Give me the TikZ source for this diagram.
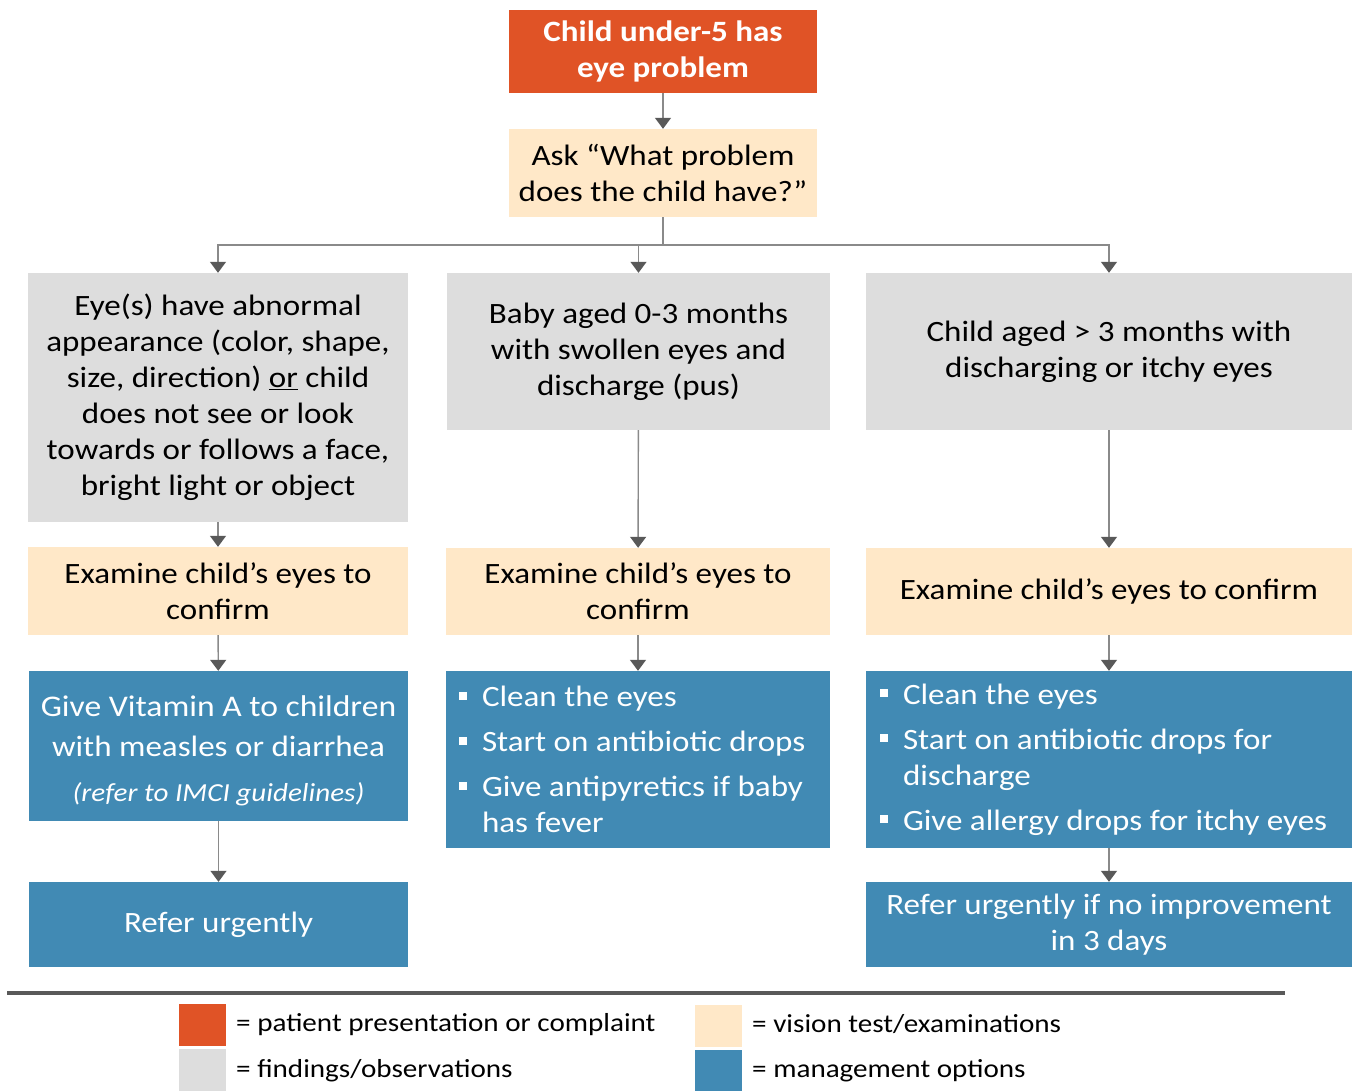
\documentclass[tikz,border=0pt]{standalone}
\usepackage{fontspec}
\setmainfont{Carlito}[FakeStretch=1.12]
\usetikzlibrary{arrows.meta}
\definecolor{corange}{HTML}{E05326}
\definecolor{ccream}{HTML}{FFE8C8}
\definecolor{cgray}{HTML}{DDDDDD}
\definecolor{cblue}{HTML}{418AB4}
\definecolor{clinec}{HTML}{8A8A8A}
\definecolor{cheadc}{HTML}{595959}
\newcommand\bul{\makebox[23pt][l]{\rule[7pt]{8pt}{8pt}}}
\newcommand\hind{\hspace*{23pt}}
\tikzset{
  box/.style={rectangle, draw=none, inner sep=0pt, align=center, font=\fontsize{29.5}{36}\selectfont},
  orangebox/.style={box, fill=corange, text=white, font=\fontsize{29.5}{36}\selectfont\bfseries},
  creambox/.style={box, fill=ccream, text=black},
  graybox/.style={box, fill=cgray, text=black},
  bluebox/.style={box, fill=cblue, text=white},
  listbox/.style={bluebox, align=flush left, inner xsep=13pt},
  arr/.style={draw=clinec, line width=1.4pt, -{Triangle[width=16pt,length=11pt,color=cheadc]}},
  legsq/.style={rectangle, draw=none, minimum width=47pt, minimum height=42pt, inner sep=0pt},
  legtxt/.style={anchor=west, inner sep=0pt, font=\fontsize{26}{30}\selectfont}
}
\begin{document}
\begin{tikzpicture}[x=1pt,y=-1pt]
\useasboundingbox[fill=white] (0,0) rectangle (1357,1090);
% top
\node[orangebox, minimum width=308pt, minimum height=83pt] (top) at (663,51.5) {Child under-5 has\\eye problem};
\node[creambox, minimum width=308pt, minimum height=88pt] (ask) at (663,173) {Ask “What problem\\does the child have?”};
% findings
\node[graybox, minimum width=380pt, minimum height=249pt] (g1) at (218,397.5) {Eye(s) have abnormal\\appearance (color, shape,\\size, direction) \underline{or} child\\does not see or look\\towards or follows a face,\\bright light or object};
\node[graybox, minimum width=383pt, minimum height=157pt] (g2) at (638.5,351.5) {Baby aged 0-3 months\\with swollen eyes and\\discharge (pus)};
\node[graybox, minimum width=486pt, minimum height=157pt] (g3) at (1109,351.5) {Child aged > 3 months with\\discharging or itchy eyes};
% exams
\node[creambox, minimum width=380pt, minimum height=88pt] (e1) at (218,591) {Examine child’s eyes to\\confirm};
\node[creambox, minimum width=384pt, minimum height=87pt] (e2) at (638,591.5) {Examine child’s eyes to\\confirm};
\node[creambox, minimum width=486pt, minimum height=87pt] (e3) at (1109,591.5) {Examine child’s eyes to confirm};
% management
\node[bluebox, minimum width=379pt, minimum height=150pt] (m1) at (218.5,746) {\fontsize{30}{36}\selectfont\rule{0pt}{31pt}Give Vitamin A to children\\[4pt]with measles or diarrhea\\[9pt]\fontsize{26}{30}\selectfont\itshape (refer to IMCI guidelines)};
\node[listbox, minimum width=384pt, minimum height=177pt, text width=358pt] (m2) at (638,759.5) {\bul Clean the eyes\\[9pt]\bul Start on antibiotic drops\\[9pt]\bul Give antipyretics if baby\\\hind has fever};
\node[listbox, inner xsep=14pt, minimum width=486pt, minimum height=177pt, text width=458pt] (m3) at (1109,759.5) {\bul Clean the eyes\\[9pt]\bul Start on antibiotic drops for\\\hind discharge\\[9pt]\bul Give allergy drops for itchy eyes};
% refer
\node[bluebox, minimum width=379pt, minimum height=85pt] (r1) at (218.5,924.5) {Refer urgently};
\node[bluebox, minimum width=486pt, minimum height=85pt] (r3) at (1109,924.5) {Refer urgently if no improvement\\in 3 days};
% connectors
\draw[arr] (top) -- (ask);
\coordinate (hb) at (663,245);
\draw[draw=clinec, line width=1.4pt] (ask) -- (hb);
\draw[arr] (hb) -| (g1.north);
\draw[arr] (hb) -| (g2.north);
\draw[arr] (hb) -| (g3.north);
\draw[arr] (g1) -- (e1);
\draw[arr] (g2) -- (e2);
\draw[arr] (g3) -- (e3);
\draw[arr] (e1) -- (m1);
\draw[arr] (e2) -- (m2);
\draw[arr] (e3) -- (m3);
\draw[arr] (m1) -- (r1);
\draw[arr] (m3) -- (r3);
% separator
\coordinate (sepL) at (7,993);
\coordinate (sepR) at (1285,993);
\draw[draw=cheadc, line width=4pt] (sepL) -- (sepR);
% legend
\node[legsq, fill=corange] (l1) at (202.5,1025) {};
\node[legsq, fill=cgray] (l2) at (202.5,1070) {};
\node[legsq, fill=ccream] (l3) at (718.5,1026) {};
\node[legsq, fill=cblue] (l4) at (718.5,1071) {};
\node[legtxt] (t1) at (236,1025) {= patient presentation or complaint};
\node[legtxt] (t2) at (236,1071) {= findings/observations};
\node[legtxt] (t3) at (752,1024) {= vision test/examinations};
\node[legtxt] (t4) at (752,1071) {= management options};
\end{tikzpicture}
\end{document}
